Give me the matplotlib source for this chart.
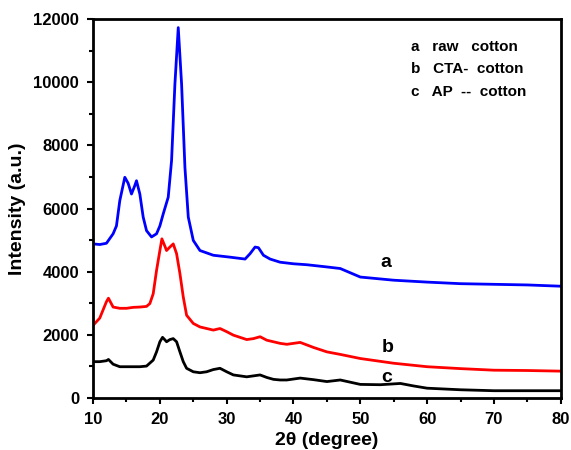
import numpy as np
import matplotlib.pyplot as plt
from matplotlib.ticker import MultipleLocator

plt.rcParams['font.family'] = ['Liberation Sans', 'DejaVu Sans']
plt.rcParams['font.weight'] = 'bold'

# curve a: raw cotton
x_a = [10, 11, 12, 13, 13.5, 14, 14.75, 15.25, 15.75, 16.2, 16.5, 17, 17.5, 18, 18.75,
       19.5, 20, 20.5, 21.25, 21.75, 22.25, 22.75, 23.25, 23.75, 24.25, 25, 26, 28,
       30.5, 32.75, 33.5, 34.25, 34.75, 35.5, 36.5, 38, 40, 42, 45, 47, 50, 55, 60,
       65, 70, 75, 80]
y_a = [4880, 4860, 4900, 5200, 5450, 6250, 6990, 6800, 6460, 6700, 6880, 6460, 5730,
       5300, 5100, 5200, 5450, 5830, 6360, 7520, 9940, 11730, 9940, 7300, 5730, 4990,
       4670, 4520, 4460, 4400, 4570, 4780, 4760, 4520, 4400, 4300, 4250, 4220, 4150,
       4100, 3830, 3730, 3670, 3620, 3600, 3580, 3540]

# curve b: CTA- cotton
x_b = [10, 11, 12, 12.3, 13, 14, 15, 16, 17, 18, 18.5, 19, 19.5, 20, 20.3, 20.8, 21,
       21.5, 22, 22.5, 23, 23.5, 24, 25, 26, 27, 28, 29, 30, 31, 32, 33, 34, 35, 36,
       37, 38, 39, 40, 41, 43, 45, 47, 50, 55, 60, 65, 70, 75, 80]
y_b = [2300, 2530, 3050, 3160, 2880, 2840, 2840, 2870, 2880, 2900, 2990, 3300, 4040,
       4670, 5040, 4780, 4670, 4780, 4880, 4570, 3940, 3200, 2620, 2360, 2250, 2200,
       2150, 2200, 2100, 1990, 1920, 1850, 1880, 1940, 1830, 1780, 1730, 1700, 1730,
       1760, 1600, 1460, 1380, 1250, 1100, 990, 930, 880, 870, 850]

# curve c: AP -- cotton
x_c = [10, 11, 12, 12.3, 13, 14, 15, 16, 17, 18, 19, 19.5, 20, 20.4, 20.8, 21, 21.5,
       22, 22.5, 23, 23.5, 24, 25, 26, 27, 28, 29, 30, 31, 32, 33, 34, 35, 36, 37, 38,
       39, 40, 41, 43, 45, 47, 50, 53, 56, 58, 60, 65, 70, 75, 80]
y_c = [1150, 1150, 1180, 1220, 1070, 990, 990, 990, 990, 1010, 1200, 1460, 1780, 1920,
       1830, 1780, 1850, 1880, 1780, 1460, 1150, 940, 830, 800, 830, 900, 940, 830, 730,
       700, 670, 700, 730, 650, 590, 570, 570, 600, 630, 580, 520, 570, 430, 420, 460,
       380, 310, 260, 230, 230, 230]

legend_lines = ['a   raw   cotton', 'b   CTA-  cotton', 'c   AP  --  cotton']

fig = plt.figure(figsize=(5.71, 4.5), dpi=100)
ax = fig.add_axes([0.163, 0.1156, 0.819, 0.842])

ax.plot(x_a, y_a, color='#0000ff', lw=2)
ax.plot(x_b, y_b, color='#ff0000', lw=2)
ax.plot(x_c, y_c, color='black', lw=2)

ax.set_xlim(10, 80)
ax.set_ylim(0, 12000)
ax.xaxis.set_major_locator(MultipleLocator(10))
ax.xaxis.set_minor_locator(MultipleLocator(5))
ax.yaxis.set_major_locator(MultipleLocator(2000))
ax.yaxis.set_minor_locator(MultipleLocator(1000))
ax.tick_params(which='both', direction='out', width=1.5, labelsize=12, pad=5.5)
ax.tick_params(which='major', length=4.5)
ax.tick_params(which='minor', length=3)
for lab in ax.get_xticklabels() + ax.get_yticklabels():
    lab.set_fontweight('bold')
for sp in ax.spines.values():
    sp.set_linewidth(2)

ax.set_xlabel('2θ (degree)', fontsize=14, fontweight='bold', labelpad=3.5)
ax.set_ylabel('Intensity (a.u.)', fontsize=14, fontweight='bold', labelpad=5)

ax.text(53.0, 4300, 'a', fontsize=14, fontweight='bold', va='center')
ax.text(53.2, 1600, 'b', fontsize=14, fontweight='bold', va='center')
ax.text(53.2, 640, 'c', fontsize=14, fontweight='bold', va='center')

for i, s in enumerate(legend_lines):
    ax.text(0.679, 0.927 - i * 0.06, s, transform=ax.transAxes,
            fontsize=11, fontweight='bold', va='center')

fig.savefig('out.png', dpi=100)
